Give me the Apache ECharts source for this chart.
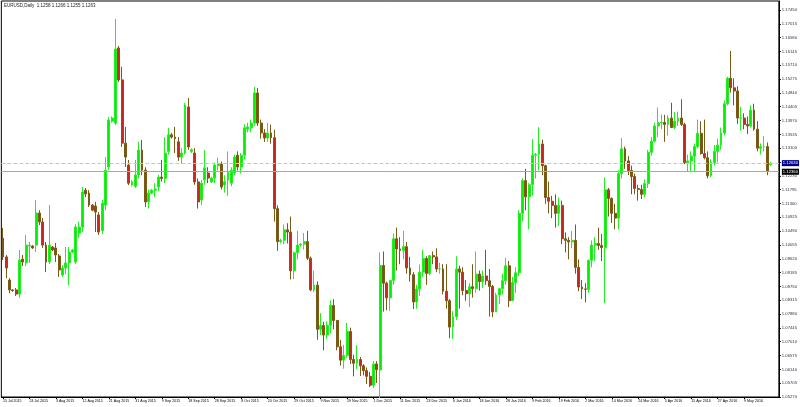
<!DOCTYPE html>
<html><head><meta charset="utf-8">
<script src="https://cdn.jsdelivr.net/npm/echarts@6/dist/echarts.min.js"></script>
<style>html,body{margin:0;padding:0;background:#fff;overflow:hidden}#c{width:800px;height:407px}</style>
</head><body><div id="c"></div>
<script>
const symbolTitle = 'EURUSD,Daily  1.1258 1.1266 1.1255 1.1263';
// first bar date, extra (Sunday) sessions in the feed, and closed days
const firstDay = '2015-07-15';
const extraSessions = ['2015-07-19','2015-07-26','2015-08-02','2015-08-09','2015-08-16','2015-08-23','2015-08-30',
  '2015-09-06','2015-09-13','2015-09-20','2015-09-27','2015-10-25','2015-11-01'];
const closedDays = ['2015-12-25','2016-01-01'];
const opens = [
1.1027,1.0968,1.0895,1.0864,1.0864,1.0851,1.0961,1.0949,1.1002,1.1002,1.1005,1.1106,1.1078,1.1005,1.0952,1.0999,1.0996,1.0971,1.0911,1.0933,
1.0949,1.0983,1.0952,1.1043,1.1062,1.1178,1.1169,1.1131,1.1128,1.1100,1.1050,1.1131,1.1251,1.1395,1.1389,1.1625,1.1525,1.1326,1.1257,1.1194,
1.1190,1.1226,1.1304,1.1241,1.1141,1.1169,1.1178,1.1188,1.1219,1.1215,1.1300,1.1352,1.1345,1.1330,1.1282,1.1295,1.1440,1.1300,1.1295,1.1204,
1.1147,1.1210,1.1232,1.1204,1.1216,1.1255,1.1260,1.1194,1.1210,1.1200,1.1232,1.1288,1.1251,1.1288,1.1370,1.1374,1.1389,1.1484,1.1389,1.1358,
1.1342,1.1358,1.1343,1.1120,1.1016,1.1020,1.1053,1.1046,1.0924,1.0981,1.1005,1.1008,1.1016,1.0964,1.0864,1.0879,1.0740,1.0752,1.0722,1.0753,
1.0815,1.0768,1.0685,1.0643,1.0658,1.0733,1.0645,1.0633,1.0645,1.0625,1.0610,1.0592,1.0564,1.0631,
1.0612,1.0941,1.0885,1.0839,1.0894,1.1025,1.0993,1.0988,1.1000,1.0933,1.0912,1.0826,1.0867,1.0920,1.0963,1.0916,1.0972,1.0968,1.0930,1.0930,
1.0860,1.0830,1.0747,1.0780,1.0930,1.0920,1.0862,1.0852,1.0874,1.0868,1.0914,1.0890,1.0908,1.0893,1.0875,1.0795,1.0848,1.0868,1.0893,1.0940,
1.0830,1.0887,1.0918,1.1105,1.1208,1.1157,1.1195,1.1288,1.1290,1.1323,1.1255,1.1155,1.1143,1.1130,1.1105,1.1130,1.1025,1.1020,1.1015,1.1020,1.0935,
1.0873,1.0867,1.0866,1.0957,1.1005,1.1010,1.1004,1.0997,1.1179,1.1152,1.1105,1.1090,1.1230,1.1308,1.1270,1.1240,1.1221,1.1183,1.1180,1.1165,1.1199,1.1297,1.1332,
1.1380,1.1390,1.1391,1.1385,1.1405,1.1375,1.1395,1.1405,1.1385,1.1265,1.1270,1.1285,1.1315,1.1357,1.1293,1.1280,1.1223,1.1265,1.1300,1.1320,1.1358,
1.1450,1.1530,1.1500,1.1490,1.1405,1.1405,1.1385,1.1380,1.1430,1.1370,1.1310,1.1315,1.1315,1.1258];
const highs = [
1.1059,1.0974,1.0901,1.0867,1.0870,1.0990,1.0974,1.1037,1.1015,1.1005,1.1147,1.1115,1.1090,1.1015,1.1131,1.1002,1.1012,1.0977,1.0942,1.0999,
1.0999,1.0993,1.1071,1.1078,1.1188,1.1185,1.1178,1.1134,1.1141,1.1109,1.1147,1.1282,1.1408,1.1410,1.1717,1.1632,1.1566,1.1377,1.1273,1.1210,
1.1273,1.1330,1.1336,1.1250,1.1180,1.1182,1.1200,1.1226,1.1273,1.1345,1.1374,1.1358,1.1377,1.1345,1.1310,1.1453,1.1468,1.1310,1.1310,1.1215,
1.1210,1.1304,1.1250,1.1220,1.1265,1.1280,1.1268,1.1225,1.1300,1.1250,1.1290,1.1300,1.1295,1.1385,1.1390,1.1400,1.1503,1.1500,1.1400,1.1370,
1.1390,1.1384,1.1368,1.1130,1.1025,1.1070,1.1074,1.1095,1.0985,1.1050,1.1012,1.1043,1.1050,1.0969,1.0925,1.0891,1.0791,1.0764,1.0765,1.0831,
1.0835,1.0769,1.0707,1.0691,1.0760,1.0745,1.0660,1.0690,1.0653,1.0630,1.0620,1.0606,1.0640,1.0640,
1.0982,1.0985,1.0890,1.0895,1.1042,1.1060,1.1030,1.1050,1.1015,1.0968,1.0920,1.0880,1.0944,1.0990,1.0970,1.0970,1.0985,1.0995,1.0950,1.0945,
1.0945,1.0835,1.0797,1.0970,1.0940,1.0935,1.0895,1.0885,1.0945,1.0985,1.0925,1.0925,1.0990,1.0930,1.0880,1.0855,1.0870,1.0915,1.0965,1.0955,
1.0905,1.0935,1.1115,1.1215,1.1245,1.1200,1.1338,1.1295,1.1376,1.1337,1.1258,1.1205,1.1160,1.1165,1.1155,1.1145,1.1045,1.1030,1.1050,1.1070,1.0960,
1.0895,1.0885,1.0960,1.1020,1.1030,1.1060,1.1040,1.1218,1.1185,1.1155,1.1135,1.1240,1.1342,1.1315,1.1285,1.1255,1.1230,1.1195,1.1195,1.1212,1.1305,1.1345,1.1390,
1.1438,1.1416,1.1415,1.1414,1.1453,1.1424,1.1425,1.1464,1.1390,1.1290,1.1300,1.1325,1.1400,1.1395,1.1400,1.1300,1.1275,1.1320,1.1340,1.1375,1.1460,
1.1535,1.1616,1.1530,1.1505,1.1440,1.1420,1.1410,1.1445,1.1450,1.1395,1.1325,1.1348,1.1328,1.1266];
const lows = [
1.0958,1.0901,1.0854,1.0858,1.0845,1.0839,1.0939,1.0939,1.0949,1.0993,1.0983,1.1068,1.0996,1.0920,1.0946,1.0986,1.0952,1.0905,1.0905,1.0914,
1.0879,1.0980,1.0946,1.1027,1.1046,1.1156,1.1125,1.1112,1.1046,1.1037,1.1040,1.1115,1.1241,1.1390,1.1383,1.1518,1.1314,1.1251,1.1194,1.1190,
1.1185,1.1215,1.1225,1.1125,1.1120,1.1165,1.1156,1.1175,1.1205,1.1200,1.1290,1.1340,1.1295,1.1270,1.1260,1.1290,1.1305,1.1295,1.1195,1.1120,
1.1131,1.1195,1.1200,1.1200,1.1200,1.1240,1.1180,1.1170,1.1160,1.1190,1.1225,1.1240,1.1230,1.1275,1.1360,1.1360,1.1380,1.1380,1.1340,1.1330,
1.1330,1.1324,1.1079,1.0987,1.1010,1.1008,1.1010,1.0897,1.0898,1.0960,1.1000,1.0991,1.0958,1.0860,1.0858,1.0707,1.0722,1.0674,1.0710,1.0727,
1.0740,1.0674,1.0626,1.0616,1.0650,1.0631,1.0592,1.0615,1.0593,1.0595,1.0568,1.0558,1.0555,1.0571,
1.0524,1.0796,1.0800,1.0798,1.0880,1.0925,1.0945,1.0960,1.0915,1.0890,1.0804,1.0805,1.0845,1.0905,1.0880,1.0910,1.0945,1.0920,1.0915,1.0850,
1.0805,1.0712,1.0710,1.0770,1.0805,1.0847,1.0830,1.0810,1.0840,1.0855,1.0862,1.0870,1.0880,1.0780,1.0778,1.0795,1.0820,1.0850,1.0880,1.0810,
1.0830,1.0855,1.0908,1.1080,1.1115,1.1055,1.1160,1.1215,1.1240,1.1225,1.1135,1.1105,1.1090,1.1060,1.1065,1.1008,1.0982,1.0960,1.0995,1.0915,1.0860,
1.0835,1.0825,1.0855,1.0935,1.0955,1.0990,1.0955,1.0822,1.1095,1.1075,1.1055,1.1055,1.1215,1.1245,1.1225,1.1165,1.1165,1.1145,1.1150,1.1155,1.1185,1.1287,1.1328,
1.1345,1.1370,1.1330,1.1350,1.1375,1.1370,1.1380,1.1380,1.1260,1.1235,1.1235,1.1235,1.1310,1.1290,1.1275,1.1215,1.1218,1.1255,1.1265,1.1305,1.1350,
1.1445,1.1485,1.1445,1.1387,1.1365,1.1370,1.1355,1.1375,1.1365,1.1300,1.1290,1.1300,1.1225,1.1255];
const closes = [
1.0968,1.0933,1.0864,1.0862,1.0851,1.0958,1.0952,1.1005,1.1005,1.0996,1.1106,1.1078,1.1005,1.0952,1.1005,1.0990,1.0974,1.0927,1.0933,1.0949,
1.0983,1.0990,1.1062,1.1062,1.1172,1.1166,1.1131,1.1115,1.1109,1.1046,1.1137,1.1241,1.1399,1.1405,1.1622,1.1525,1.1326,1.1282,1.1200,1.1205,
1.1226,1.1304,1.1241,1.1141,1.1169,1.1178,1.1182,1.1219,1.1215,1.1295,1.1352,1.1345,1.1340,1.1282,1.1295,1.1446,1.1314,1.1305,1.1204,1.1141,
1.1200,1.1248,1.1216,1.1216,1.1257,1.1262,1.1188,1.1205,1.1235,1.1241,1.1282,1.1251,1.1288,1.1374,1.1377,1.1389,1.1484,1.1389,1.1358,1.1342,
1.1358,1.1343,1.1120,1.1016,1.1020,1.1053,1.1046,1.0924,1.0981,1.1005,1.1008,1.1016,1.0964,1.0864,1.0879,1.0740,1.0752,1.0722,1.0753,1.0815,
1.0768,1.0685,1.0643,1.0658,1.0733,1.0645,1.0633,1.0645,1.0625,1.0610,1.0592,1.0564,1.0631,1.0613,
1.0941,1.0885,1.0839,1.0894,1.1025,1.0993,1.0988,1.1000,1.0933,1.0912,1.0826,1.0867,1.0920,1.0963,1.0916,1.0972,1.0968,1.0930,1.0930,1.0860,
1.0830,1.0747,1.0780,1.0930,1.0920,1.0862,1.0852,1.0874,1.0868,1.0914,1.0890,1.0908,1.0893,1.0875,1.0795,1.0848,1.0868,1.0893,1.0940,1.0830,
1.0887,1.0918,1.1105,1.1208,1.1157,1.1195,1.1288,1.1290,1.1323,1.1255,1.1155,1.1143,1.1130,1.1105,1.1130,1.1025,1.1020,1.1015,1.1020,1.0935,1.0873,
1.0867,1.0866,1.0957,1.1005,1.1010,1.1004,1.0997,1.1179,1.1152,1.1105,1.1090,1.1230,1.1308,1.1270,1.1240,1.1221,1.1183,1.1180,1.1165,1.1199,1.1297,1.1332,1.1380,
1.1390,1.1391,1.1385,1.1405,1.1375,1.1395,1.1405,1.1385,1.1265,1.1270,1.1285,1.1315,1.1357,1.1293,1.1280,1.1223,1.1265,1.1300,1.1320,1.1358,1.1450,
1.1530,1.1500,1.1490,1.1405,1.1405,1.1385,1.1380,1.1430,1.1370,1.1310,1.1315,1.1315,1.1238,1.1263];
const levelDashed = 1.1263;
const levelSolid = 1.1236;
const yTickMin = 1.05270, yTickStep = 0.00435, yMax = 1.17733;
const labelEvery = 8, lastLabelIdx = 224, padBars = 2;

const months = ['Jan','Feb','Mar','Apr','May','Jun','Jul','Aug','Sep','Oct','Nov','Dec'];
const iso = dt => dt.toISOString().slice(0, 10);
const cats = [];
let d = new Date(firstDay + 'T00:00:00Z');
while (cats.length < opens.length) {
  const wd = d.getUTCDay(), s = iso(d);
  const trading = (wd !== 0 && wd !== 6 && closedDays.indexOf(s) < 0) || extraSessions.indexOf(s) >= 0;
  if (trading) cats.push(d.getUTCDate() + ' ' + months[d.getUTCMonth()] + ' ' + d.getUTCFullYear());
  d = new Date(d.getTime() + 86400000);
}
for (let i = 0; i < padBars; i++) cats.push('');
const P = v => Math.round(v * 1e5);
const data = cats.map((c, k) => k < opens.length ? [P(opens[k]), P(closes[k]), P(lows[k]), P(highs[k])] : ['-', '-', '-', '-']);
const showIdx = i => i % labelEvery === 0 && i <= lastLabelIdx;
const chart = echarts.init(document.getElementById('c'), null, {renderer: 'canvas'});
chart.setOption({
  animation: false,
  backgroundColor: '#ffffff',
  grid: {left: 1, right: 18, top: 1, bottom: 10, show: true, borderColor: '#000', borderWidth: 1},
  graphic: [{type: 'text', left: 4, top: 3, style: {text: symbolTitle, fontSize: 4.5, fill: '#222', fontFamily: 'Liberation Sans'}}],
  xAxis: {
    type: 'category', data: cats, boundaryGap: true,
    axisLine: {show: true, lineStyle: {color: '#000', width: 1}},
    axisTick: {show: true, alignWithLabel: true, length: 2, lineStyle: {color: '#000'}, interval: showIdx},
    axisLabel: {show: true, interval: showIdx, align: 'left', margin: 2,
      fontSize: 3.6, color: '#000', fontFamily: 'Liberation Sans'},
    splitLine: {show: false}
  },
  yAxis: {
    type: 'value', position: 'right', scale: true,
    min: P(yTickMin), max: P(yMax), interval: P(yTickStep),
    axisLine: {show: true, lineStyle: {color: '#000', width: 1}},
    axisTick: {show: true, length: 2, lineStyle: {color: '#000'}},
    axisLabel: {show: true, showMaxLabel: false, showMinLabel: true, margin: 3, fontSize: 4.2, color: '#334',
      fontFamily: 'Liberation Sans', formatter: v => (v / 1e5).toFixed(5)},
    splitLine: {show: false}
  },
  series: [{
    type: 'candlestick', data: data, barWidth: 2.4,
    itemStyle: {color: '#00f000', color0: '#c82a1e', borderColor: '#20f020', borderColor0: '#7a5a14', borderWidth: 1},
    markLine: {
      silent: true, symbol: 'none', animation: false,
      data: [
        {yAxis: P(levelDashed), lineStyle: {type: [4, 2], color: '#c4c4dc', width: 1},
          label: {show: true, position: 'end', distance: 3, formatter: levelDashed.toFixed(5), fontSize: 4.2,
            color: '#fff', backgroundColor: '#000090', padding: [1, 1]}},
        {yAxis: P(levelSolid), lineStyle: {type: 'solid', color: '#a8a8a8', width: 1},
          label: {show: true, position: 'end', distance: 3, formatter: levelSolid.toFixed(5), fontSize: 4.2,
            color: '#fff', backgroundColor: '#000', padding: [1, 1]}}
      ]
    }
  }]
});
</script>
</body></html>
